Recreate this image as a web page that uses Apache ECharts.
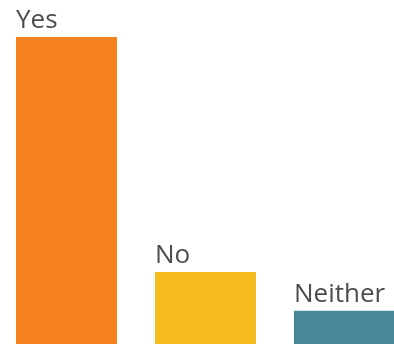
<!DOCTYPE html>
<html>
<head>
<meta charset="utf-8">
<script src="https://cdn.jsdelivr.net/npm/echarts@6/dist/echarts.min.js"></script>
<style>
  html, body { margin: 0; padding: 0; background: #fff; }
  #chart { width: 394px; height: 344px; }
</style>
</head>
<body>
<div id="chart"></div>
<script>
// answers and their share
const categories = ['Yes', 'No', 'Neither']
const values = [75, 17.6, 8.1]
const barColors = ['#f5821f', '#f6bb1f', '#48869a']

const chart = echarts.init(document.getElementById('chart'), null, { renderer: 'canvas' })

chart.setOption({
  animation: false,
  grid: { left: -3, top: 37, width: 417, bottom: 0, outerBoundsMode: 'none', containLabel: false },
  xAxis: {
    type: 'category',
    data: categories,
    show: false
  },
  yAxis: {
    type: 'value',
    min: 0,
    max: 75,
    show: false
  },
  series: [{
    type: 'bar',
    barWidth: 101,
    clip: false,
    data: values.map((v, i) => ({ value: v, itemStyle: { color: barColors[i] } })),
    label: {
      show: true,
      position: [0, -3],
      align: 'left',
      verticalAlign: 'bottom',
      formatter: p => categories[p.dataIndex],
      fontFamily: '"Open Sans", sans-serif',
      fontSize: 26,
      color: '#4d4d4d'
    }
  }]
})
</script>
</body>
</html>
